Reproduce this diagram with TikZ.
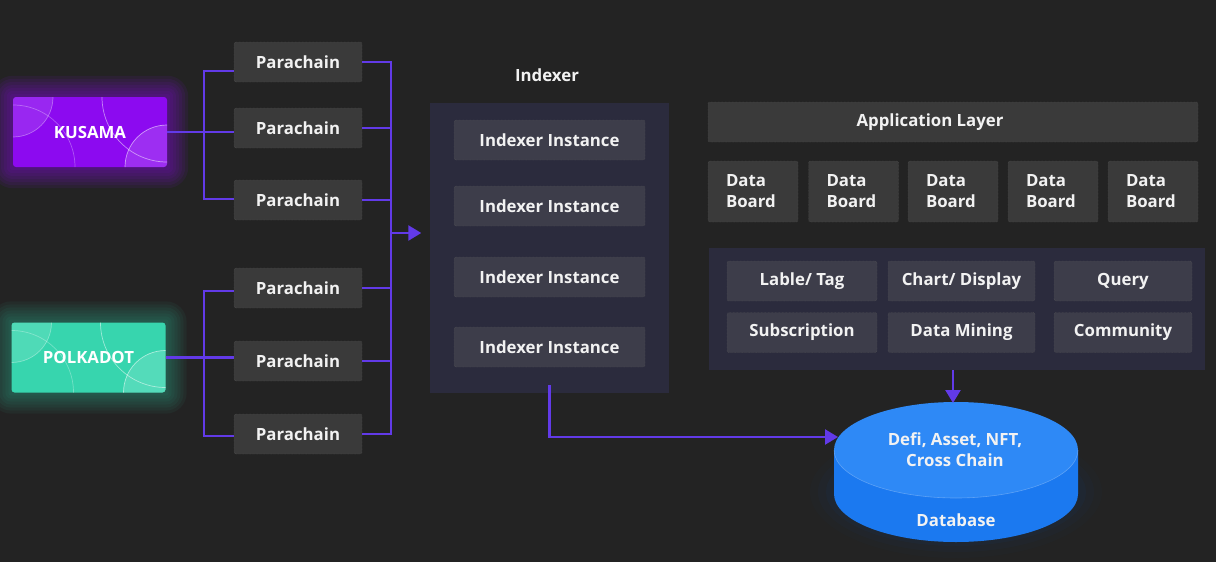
\documentclass[tikz,border=0pt]{standalone}
\usepackage{fontspec}
\setmainfont{Open Sans}
\usetikzlibrary{calc,arrows.meta,positioning,backgrounds}
\definecolor{bgdark}{HTML}{232323}
\definecolor{boxgray}{HTML}{3A3A3A}
\definecolor{dotgray}{HTML}{595959}
\definecolor{panelblue}{HTML}{2B2B3D}
\definecolor{instgray}{HTML}{3D3D4A}
\definecolor{linkpurple}{HTML}{623AE8}
\definecolor{kusamapurple}{HTML}{8C0AF0}
\definecolor{polkateal}{HTML}{37D5AE}
\definecolor{dbtop}{HTML}{2E89F6}
\definecolor{dbside}{HTML}{1B79F0}
\definecolor{txtwhite}{HTML}{F2F2F2}
\newcommand{\boxfont}{\bfseries\fontsize{16.8}{21}\selectfont}
\tikzset{
  pbox/.style={rectangle, draw=dotgray, densely dotted, fill=boxgray, rounded corners=2pt, minimum width=128pt, minimum height=40pt, inner sep=0pt, font=\boxfont, text=txtwhite},
  ibox/.style={pbox, fill=instgray, minimum width=191pt},
  dbox/.style={pbox, minimum width=90pt, minimum height=61pt, text width=54pt, align=left},
  tbox/.style={pbox, fill=instgray, minimum height=40pt},
  panel/.style={rectangle, fill=panelblue, inner sep=0pt},
  brand/.style={rectangle, rounded corners=3pt, minimum width=154pt, minimum height=70pt, inner sep=0pt, font=\boxfont, text=white,
    path picture={
      \fill[white, opacity=.12] (path picture bounding box.north west) circle[radius=40pt];
      \draw[white, opacity=.35, line width=.7pt] (path picture bounding box.north west) circle[radius=40pt];
      \draw[white, opacity=.3, line width=.7pt] (path picture bounding box.south west) circle[radius=62pt];
      \draw[white, opacity=.5, line width=.7pt] (path picture bounding box.north east) circle[radius=65pt];
      \fill[white, opacity=.15] (path picture bounding box.south east) circle[radius=42pt];
      \draw[white, opacity=.55, line width=.7pt] (path picture bounding box.south east) circle[radius=42pt];
    }},
  link/.style={draw=linkpurple, line width=2.4pt},
  arr/.style={link, -{Triangle[length=13pt,width=15pt]}},
  dbtxt/.style={font=\boxfont, text=txtwhite, align=center},
}
\begin{document}
\begin{tikzpicture}[x=1pt, y=-1pt]
  \useasboundingbox (0,0) rectangle (1216,562);
  % --- Sources ---
  \node[brand, fill=kusamapurple] (kus) at (90,132) {KUSAMA};
  \node[brand, fill=polkateal] (pol) at (88.5,357.5) {POLKADOT};

  % Parachains
  \node[pbox] (p1) at (298,62) {Parachain};
  \node[pbox] (p2) at (298,128) {Parachain};
  \node[pbox] (p3) at (298,200) {Parachain};
  \node[pbox] (p4) at (298,288) {Parachain};
  \node[pbox] (p5) at (298,361) {Parachain};
  \node[pbox] (p6) at (298,434) {Parachain};

  \coordinate (lbus) at (204,0);
  \coordinate (rbus) at (391,0);

  \draw[link] (kus.east) -- (kus.east -| p2.west);
  \draw[link] ([yshift=-9pt]p1.west) -| (lbus |- kus.east) |- ([yshift=1pt]p3.west);
  \draw[link] (pol.east) -- (pol.east -| p5.west);
  \draw[link] ([yshift=-3pt]p4.west) -| (lbus |- pol.east) |- ([yshift=-2pt]p6.west);

  \draw[link] (p1.east) -| (rbus |- p6.east) -- (p6.east);
  \foreach \p in {p2,p3,p4,p5}
    \draw[link] (\p.east) -- (rbus |- \p.east);

  % --- Indexer ---
  \node[font=\boxfont, text=txtwhite] (idxtitle) at (547,75) {Indexer};
  \node[panel, minimum width=239pt, minimum height=290pt] (idx) at (549,248) {};
  \node[ibox] (i1) at (549.5,140) {Indexer Instance};
  \node[ibox] (i2) at (549.5,206) {Indexer Instance};
  \node[ibox] (i3) at (549.5,277) {Indexer Instance};
  \node[ibox] (i4) at (549.5,347) {Indexer Instance};

  \coordinate (idxin) at ([yshift=15pt]idx.west);
  \draw[arr, shorten >=8pt] (rbus |- idxin) -- (idxin);

  % --- Application layer ---
  \node[pbox, minimum width=490pt, label={[font=\boxfont, text=txtwhite, xshift=-23pt]center:Application Layer}] (app) at (953,122) {};
  \foreach \x [count=\i] in {753,853.5,953,1053,1153}
    \node[dbox] (b\i) at (\x,191.5) {Data\\Board};

  \node[panel, minimum width=496pt, minimum height=122pt] (tools) at (957,309) {};
  \node[tbox, minimum width=150pt] (t1) at (802,281) {Lable/ Tag};
  \node[tbox, minimum width=147pt] (t2) at (961.5,281) {Chart/ Display};
  \node[tbox, minimum width=138pt] (t3) at (1123,281) {Query};
  \node[tbox, minimum width=150pt] (t4) at (802,332.5) {Subscription};
  \node[tbox, minimum width=147pt] (t5) at (961.5,332.5) {Data Mining};
  \node[tbox, minimum width=138pt] (t6) at (1123,332.5) {Community};

  % --- Database ---
  \foreach \rx/\ry/\op in {146/66/.03,138/60/.05,130/54/.07}
    \fill[dbside!60!black, opacity=\op] (956,492) ellipse[x radius=\rx pt, y radius=\ry pt];
  \fill[dbside] (834,450) -- (834,494) arc[start angle=180, end angle=360, x radius=122pt, y radius=48pt] -- (1078,450) -- cycle;
  \fill[dbtop] (956,450) ellipse[x radius=122pt, y radius=48pt];
  \draw[white, opacity=.25, line width=.6pt] (834,450) arc[start angle=180, end angle=360, x radius=122pt, y radius=48pt];
  \coordinate (dbW) at (838,437);
  \coordinate (dbN) at (953,403);
  \node[dbtxt] (dbdata) at (955,450) {Defi, Asset, NFT,\\Cross Chain};
  \node[dbtxt] (dblbl) at (956,520) {Database};

  \draw[arr] ([yshift=-18pt]i4.south) |- (dbW);
  \draw[arr] (dbN |- tools.south) -- (dbN);

  % --- Background and glows ---
  \begin{scope}[on background layer]
    \fill[bgdark] (0,0) rectangle (1216,562);
    \foreach \g in {3,6,...,21} {
      \fill[kusamapurple, opacity=.08, rounded corners=\g pt] ($(kus.south west)+(-\g,\g)$) rectangle ($(kus.north east)+(\g,-\g)$);
      \fill[polkateal, opacity=.05, rounded corners=\g pt] ($(pol.south west)+(-\g,\g)$) rectangle ($(pol.north east)+(\g,-\g)$);
    }
  \end{scope}
\end{tikzpicture}
\end{document}
